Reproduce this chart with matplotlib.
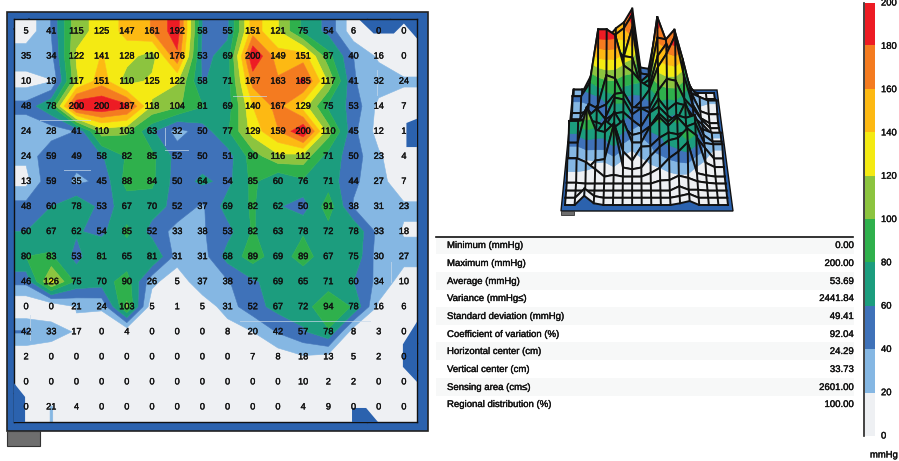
import numpy as np
import matplotlib
matplotlib.use('Agg')
import matplotlib.pyplot as plt
import matplotlib.patheffects as pe
from matplotlib.colors import ListedColormap, BoundaryNorm
from matplotlib.patches import Rectangle, Polygon

plt.rcParams['font.family'] = ['Liberation Sans', 'DejaVu Sans']

# pressure readings (mmHg)
pressure = np.array([
    [5, 41, 115, 125, 147, 161, 192, 58, 55, 151, 121, 75, 54, 6, 0, 0],
    [35, 34, 122, 141, 128, 110, 176, 53, 69, 200, 149, 151, 87, 40, 16, 0],
    [10, 19, 117, 151, 110, 125, 122, 58, 71, 167, 163, 185, 117, 41, 32, 24],
    [48, 78, 200, 200, 187, 118, 104, 81, 69, 140, 167, 129, 75, 53, 14, 7],
    [24, 28, 41, 110, 103, 63, 32, 50, 77, 129, 159, 200, 110, 45, 12, 1],
    [24, 59, 49, 58, 82, 85, 52, 50, 51, 90, 116, 112, 71, 50, 23, 4],
    [13, 59, 35, 45, 88, 84, 50, 64, 54, 85, 60, 76, 71, 44, 27, 7],
    [48, 60, 78, 53, 67, 70, 52, 37, 69, 82, 62, 50, 91, 38, 31, 23],
    [60, 67, 62, 54, 85, 52, 33, 38, 53, 82, 63, 78, 72, 78, 33, 18],
    [80, 83, 53, 81, 65, 81, 31, 31, 68, 89, 69, 89, 67, 75, 30, 27],
    [46, 126, 75, 70, 90, 26, 5, 37, 38, 57, 69, 65, 71, 60, 34, 10],
    [0, 0, 21, 24, 103, 5, 1, 5, 31, 52, 67, 72, 94, 78, 16, 6],
    [42, 33, 17, 0, 4, 0, 0, 0, 8, 20, 42, 57, 78, 8, 3, 0],
    [2, 0, 0, 0, 0, 0, 0, 0, 0, 7, 8, 18, 13, 5, 2, 0],
    [0, 0, 0, 0, 0, 0, 0, 0, 0, 0, 0, 10, 2, 2, 0, 0],
    [0, 21, 4, 0, 0, 0, 0, 0, 0, 0, 0, 4, 9, 0, 0, 0],
])

levels = [0, 20, 40, 60, 80, 100, 120, 140, 160, 180, 200]
band_colors = ['#eef0f3', '#85b7e3', '#3f72b9', '#1c9d7e', '#2fb04c',
               '#8cc43f', '#f4ea13', '#fdb913', '#f47b20', '#ed1c24']

stat_names = ['Minimum (mmHg)', 'Maximum (mmHg)', 'Average (mmHg)', 'Variance (mmHg≤)',
              'Standard deviation (mmHg)', 'Coefficient of variation (%)',
              'Horizontal center (cm)', 'Vertical center (cm)',
              'Sensing area (cm≤)', 'Regional distribution (%)']
stat_values = ['0.00', '200.00', '53.69', '2441.84', '49.41',
               '92.04', '24.29', '33.73', '2601.00', '100.00']

W, H = 899, 461
BLUE = '#2b62ae'
DARK = '#111111'
cmap = ListedColormap(band_colors)
norm = BoundaryNorm(levels, cmap.N)
heavy = [pe.withStroke(linewidth=0.25, foreground=DARK)]

fig = plt.figure(figsize=(W / 100, H / 100), dpi=100, facecolor='white')

# page axes in pixel coordinates, for frames and text
page = fig.add_axes([0, 0, 1, 1])
page.set_xlim(0, W)
page.set_ylim(H, 0)
page.axis('off')


def px_axes(x0, y0, x1, y1):
    return fig.add_axes([x0 / W, 1 - y1 / H, (x1 - x0) / W, (y1 - y0) / H])


def smooth_fill(target, *args, **kwargs):
    # antialiased bands, edge in the face colour so no seams show
    cs = target.contourf(*args, levels=levels, colors=band_colors, antialiased=True, **kwargs)
    cs.set_edgecolor('face')
    cs.set_linewidth(0.4)
    return cs


# --- 2D map ---
page.add_patch(Rectangle((6.5, 12.5), 421, 418, fc=BLUE, ec='#222222', lw=1.2))
page.add_patch(Rectangle((7, 431), 33, 15, fc='#6e6e6e', ec='#333333', lw=0.8))

n_rows, n_cols = pressure.shape
col_pos = np.r_[-1, np.arange(n_cols), n_cols]
row_pos = np.r_[-1, np.arange(n_rows), n_rows]
padded = np.pad(pressure, 1, mode='edge').astype(float)

ax = px_axes(14, 19, 417, 422)
smooth_fill(ax, col_pos, row_pos, padded)
ax.set_xlim(-0.48, 15.52)
ax.set_ylim(15.6, -0.48)
ax.set_xticks([])
ax.set_yticks([])
for s in ax.spines.values():
    s.set_linewidth(1.0)
    s.set_color(DARK)

for r in range(n_rows):
    for c in range(n_cols):
        ax.text(c, r, str(pressure[r, c]), ha='center', va='center',
                fontsize=6.6, color=DARK, path_effects=heavy, zorder=6)

# blue leftovers around the edge of the map
ax.add_patch(Polygon([(-0.48, 14.05), (-0.04, 14.6), (-0.04, 15.6), (-0.48, 15.6)], fc=BLUE, zorder=3))
ax.add_patch(Polygon([(12.94, 15.6), (12.94, 15.04), (13.5, 15.04), (13.97, 15.6)], fc=BLUE, zorder=3))
ax.add_patch(Polygon([(14.96, 12.5), (15.52, 11.6), (15.52, 14.0), (14.96, 13.4)], fc=BLUE, zorder=3))
ax.add_patch(Polygon([(15.1, 3.67), (15.52, 3.5), (15.52, 4.63), (15.1, 4.63)], fc=BLUE, zorder=3))
ax.add_patch(Polygon([(13.2, -0.48), (15.52, -0.48), (15.52, 0.3), (15.0, -0.3), (14.6, 0.1), (13.8, 0.1)], fc=BLUE, zorder=1))

# thin black stubs and pale dashes left over from the sensor outline
page_stubs = [((14, 29), (29, 19)), ((14, 393), (25, 393)), ((403, 343), (417, 343)),
              ((403, 370), (417, 370)), ((367, 408), (367, 422)), ((367, 19), (367, 29)),
              ((390, 19), (390, 29)), ((15, 180), (15, 162))]
for (x0, y0), (x1, y1) in page_stubs:
    page.plot([x0, x1], [y0, y1], color=DARK, lw=0.9, zorder=20)
page_dashes = [((40, 90), (120, 120)), ((64, 90), (170, 170)), ((165, 188), (150, 150)),
               ((165, 165), (128, 145)), ((233, 266), (96, 96)), ((377, 377), (70, 95)),
               ((30, 30), (315, 340)), ((240, 370), (321, 321)), ((391, 391), (262, 282))]
for xs, ys in page_dashes:
    ax.plot((np.array(xs) - 26) / 25.2, (np.array(ys) - 31) / 25.07,
            color='#c9d9ea', lw=0.7, alpha=0.7, zorder=4)

# --- 3D view, strip by strip from back to front ---
page.add_patch(Polygon([(573, 90), (717, 90), (733, 211), (561, 211)], fc=BLUE, ec=DARK, lw=1.0, zorder=1))
page.add_patch(Rectangle((561, 211), 13, 4, fc='#6e6e6e', ec='#333333', lw=0.6, zorder=2))

u = (col_pos + 1) / (n_cols + 1)
v = (row_pos + 1) / (n_rows + 1)
uu, vv = np.meshgrid(u, v)
left = 575 - 10 * vv
right = 714 + 14 * vv
surf_x = left + (right - left) * uu
surf_y = 93 + 112 * vv * (0.9 + 0.1 * vv) - 0.44 * padded

for i in range(len(row_pos) - 1):
    z = 10 + 2 * i
    smooth_fill(page, surf_x[i:i + 2], surf_y[i:i + 2], padded[i:i + 2], zorder=z)
    for j in range(len(col_pos)):
        page.plot(surf_x[i:i + 2, j], surf_y[i:i + 2, j], color=DARK, lw=1.4, zorder=z + 1)
    page.plot(surf_x[i], surf_y[i], color=DARK, lw=1.4, zorder=z + 1)
    page.plot(surf_x[i + 1], surf_y[i + 1], color=DARK, lw=1.4, zorder=z + 1)
page.set_xlim(0, W)
page.set_ylim(H, 0)

# --- statistics table ---
row_y = [245, 263, 281, 298, 316, 334, 351, 369, 387, 404]
for k, (name, val) in enumerate(zip(stat_names, stat_values)):
    if k % 2 == 0:
        page.add_patch(Rectangle((436, row_y[k] - 9), 418, 18, fc='#f7f8f8', ec='none', zorder=0.5))
    page.text(447, row_y[k], name, fontsize=6.9, va='center', ha='left', color=DARK, path_effects=heavy)
    page.text(854, row_y[k], val, fontsize=6.9, va='center', ha='right', color=DARK, path_effects=heavy)
page.plot([436, 853], [237, 237], color=DARK, lw=1.2)

# --- colour scale ---
cax = px_axes(865, 3, 875, 436)
cax.imshow(np.array(levels[:-1])[::-1, None] + 10, cmap=cmap, norm=norm, aspect='auto',
           extent=[0, 1, 0, 200])
cax.axis('off')
page.plot([864, 864], [3, 436], color='#222222', lw=1.2)
for lev in levels:
    page.text(881, 3 + (200 - lev) * 433 / 200, str(lev), fontsize=6.8, va='center', ha='left',
              color=DARK, path_effects=heavy)
page.text(870, 455, 'mmHg', fontsize=6.8, va='center', ha='left', color=DARK, path_effects=heavy)

fig.savefig('out.png', dpi=100)
